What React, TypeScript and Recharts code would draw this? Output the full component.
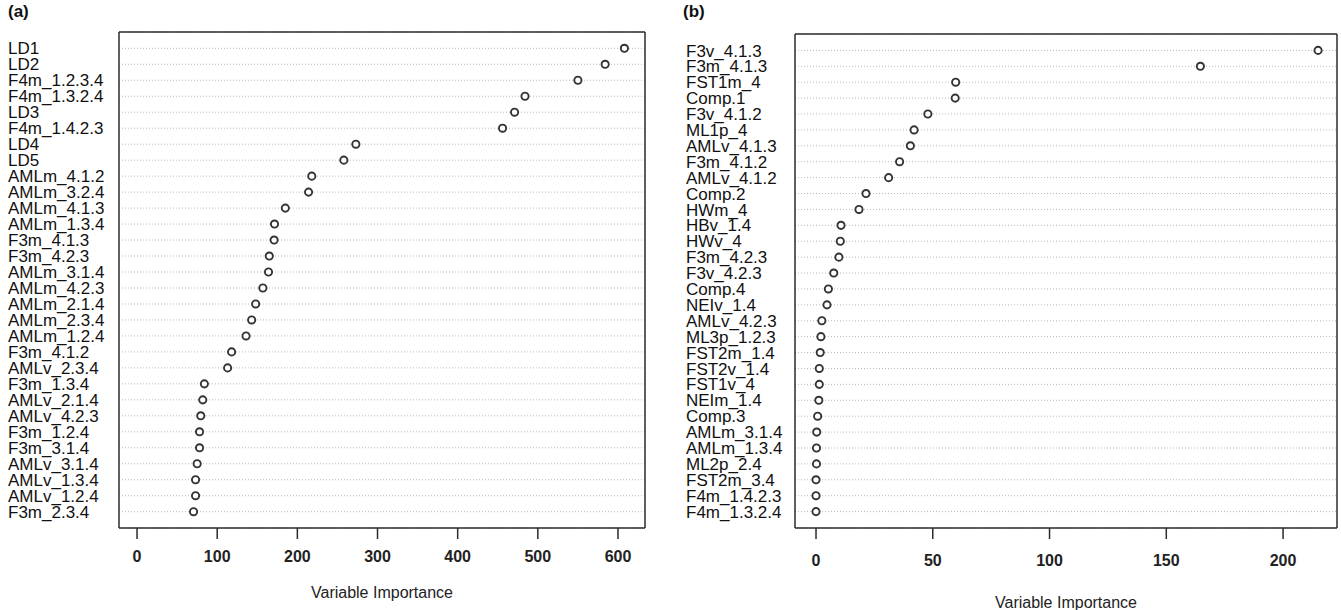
import { CartesianGrid, Line, LineChart, XAxis, YAxis } from "recharts"

const labelsA = [
  "LD1", "LD2", "F4m_1.2.3.4", "F4m_1.3.2.4", "LD3", "F4m_1.4.2.3", "LD4", "LD5",
  "AMLm_4.1.2", "AMLm_3.2.4", "AMLm_4.1.3", "AMLm_1.3.4", "F3m_4.1.3", "F3m_4.2.3",
  "AMLm_3.1.4", "AMLm_4.2.3", "AMLm_2.1.4", "AMLm_2.3.4", "AMLm_1.2.4", "F3m_4.1.2",
  "AMLv_2.3.4", "F3m_1.3.4", "AMLv_2.1.4", "AMLv_4.2.3", "F3m_1.2.4", "F3m_3.1.4",
  "AMLv_3.1.4", "AMLv_1.3.4", "AMLv_1.2.4", "F3m_2.3.4",
]
const valuesA = [
  608, 584, 550, 484, 471, 456, 273, 258,
  218, 214, 185, 171.5, 171, 165,
  164, 157, 148, 143, 136, 118,
  113, 84, 82, 79.5, 78, 78,
  75, 73, 73, 70.5,
]
const ticksA = [0, 100, 200, 300, 400, 500, 600]

const labelsB = [
  "F3v_4.1.3", "F3m_4.1.3", "FST1m_4", "Comp.1", "F3v_4.1.2", "ML1p_4", "AMLv_4.1.3",
  "F3m_4.1.2", "AMLv_4.1.2", "Comp.2", "HWm_4", "HBv_1.4", "HWv_4", "F3m_4.2.3",
  "F3v_4.2.3", "Comp.4", "NEIv_1.4", "AMLv_4.2.3", "ML3p_1.2.3", "FST2m_1.4",
  "FST2v_1.4", "FST1v_4", "NEIm_1.4", "Comp.3", "AMLm_3.1.4", "AMLm_1.3.4",
  "ML2p_2.4", "FST2m_3.4", "F4m_1.4.2.3", "F4m_1.3.2.4",
]
const valuesB = [
  215, 164.6, 59.8, 59.6, 47.9, 42, 40.4,
  35.8, 31.1, 21.4, 18.4, 10.7, 10.4, 9.8,
  7.6, 5.3, 4.7, 2.5, 2.1, 1.8,
  1.4, 1.4, 1.2, 0.7, 0.3, 0.2,
  0.2, 0, 0, 0,
]
const ticksB = [0, 50, 100, 150, 200]

const FONT = "'Liberation Sans', Arial, Helvetica, sans-serif"
const INK = "#2b2b2b"
const border = { stroke: INK, strokeWidth: 1.5 }

function DotPanel({ labels, values, ticks, domain, width, height, margin, yWidth, xHeight, labelX, pad, tickGap }: any) {
  const data = labels.map((name: string, i: number) => ({ name, value: values[i] }))
  const renderTick = (p: any) => (
    <text x={labelX} y={p.y} dy="0.36em" textAnchor="start" fontSize={17} fill="#111" fontFamily={FONT}>
      {p.payload.value}
    </text>
  )
  return (
    <LineChart layout="vertical" width={width} height={height} data={data} margin={margin}>
      <CartesianGrid horizontal vertical={false} stroke="#b8b8b8" strokeDasharray="1 2" />
      <XAxis
        type="number"
        dataKey="value"
        domain={domain}
        ticks={ticks}
        allowDataOverflow
        height={xHeight}
        axisLine={border}
        tickLine={{ stroke: INK, strokeWidth: 1.5 }}
        tickSize={11}
        tickMargin={tickGap}
        tick={{ fill: "#222", fontSize: 16, fontWeight: "bold", fontFamily: FONT }}
        label={{ value: "Variable Importance", position: "insideBottom", offset: 0, fill: "#222", fontSize: 16, fontFamily: FONT }}
      />
      <XAxis xAxisId="top" orientation="top" type="number" dataKey="value" domain={domain} allowDataOverflow height={1} tick={false} tickLine={false} axisLine={border} />
      <YAxis
        type="category"
        dataKey="name"
        scale="point"
        width={yWidth}
        padding={{ top: pad, bottom: pad }}
        axisLine={border}
        tickLine={false}
        tick={renderTick}
        interval={0}
      />
      <YAxis yAxisId="right" orientation="right" type="category" dataKey="name" scale="point" padding={{ top: pad, bottom: pad }} width={1} tick={false} tickLine={false} axisLine={border} />
      <Line xAxisId="top" yAxisId="right" dataKey="value" stroke="none" dot={false} activeDot={false} isAnimationActive={false} />
      <Line
        dataKey="value"
        stroke="none"
        dot={{ r: 3.6, stroke: "#333", strokeWidth: 1.9, fill: "#fff" }}
        isAnimationActive={false}
      />
    </LineChart>
  )
}

export default function App() {
  return (
    <div style={{ position: "absolute", left: 0, top: 0, width: 1341, height: 610, background: "#fff", fontFamily: FONT, overflow: "hidden" }}>
      <div style={{ position: "absolute", left: 8, top: 2, fontSize: 17, fontWeight: "bold", color: "#111" }}>(a)</div>
      <div style={{ position: "absolute", left: 683, top: 2, fontSize: 17, fontWeight: "bold", color: "#111" }}>(b)</div>
      <div style={{ position: "absolute", left: 0, top: 0 }}>
        <DotPanel
          labels={labelsA}
          values={valuesA}
          ticks={ticksA}
          domain={[-22.5, 633.7]}
          width={670}
          height={610}
          margin={{ top: 31, right: 24, left: 0, bottom: 12 }}
          yWidth={119}
          xHeight={70}
          labelX={8}
          pad={16.3}
          tickGap={12}
        />
      </div>
      <div style={{ position: "absolute", left: 670, top: 0 }}>
        <DotPanel
          labels={labelsB}
          values={valuesB}
          ticks={ticksB}
          domain={[-9, 223.1]}
          width={671}
          height={610}
          margin={{ top: 33, right: 3, left: 0, bottom: 2 }}
          yWidth={125}
          xHeight={80}
          labelX={16}
          pad={16.4}
          tickGap={16}
        />
      </div>
    </div>
  )
}
